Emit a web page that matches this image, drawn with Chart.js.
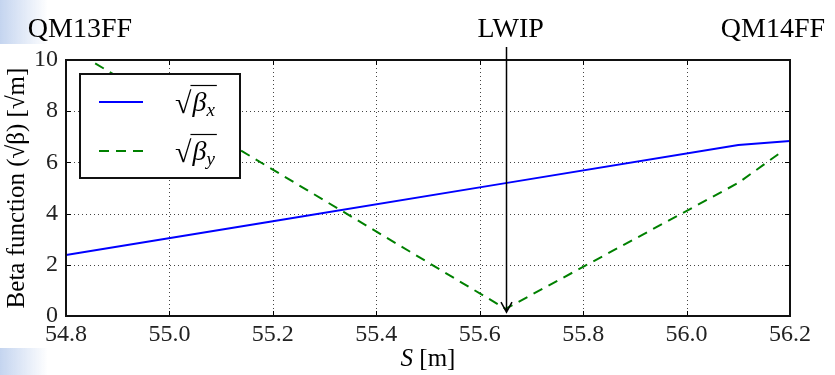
<!DOCTYPE html>
<html>
<head>
<meta charset="utf-8">
<script src="https://cdn.jsdelivr.net/npm/chart.js@4"></script>
<style>
  html, body { margin: 0; padding: 0; background: #fff; }
  #wrap { width: 835px; height: 375px; position: relative; }
</style>
</head>
<body>
<div id="wrap"><canvas id="beta" width="835" height="375"></canvas></div>
<script>
/* ---- data ---- */
// sqrt(beta_x) along S
const sBetaX = [54.8, 55.2, 55.65, 56.1, 56.2];
const sqrtBetaX = [2.38, 3.70, 5.19, 6.68, 6.84];
// sqrt(beta_y) along S
const sBetaY = [54.8, 55.65, 56.1, 56.18];
const sqrtBetaY = [10.55, 0.28, 5.2, 6.36];

// element names above the plot and where they sit in S
const markNames = ["QM13FF", "LWIP", "QM14FF"];
const markS = [54.827, 55.66, 56.167];
const ipS = 55.65; // arrow position

const xTicks = [54.8, 55.0, 55.2, 55.4, 55.6, 55.8, 56.0, 56.2];
const yTicks = [0, 2, 4, 6, 8, 10];

const SERIF = "'Liberation Serif', 'DejaVu Serif', serif";

function toPoints(xs, ys) {
  return xs.map((x, i) => ({ x: x, y: ys[i] }));
}

// light slide background peeking at the left edge
const slideBg = {
  id: "slideBg",
  beforeDraw(chart) {
    const c = chart.ctx;
    c.save();
    let g = c.createLinearGradient(0, 0, 48, 0);
    g.addColorStop(0, "rgba(190,208,238,0.9)");
    g.addColorStop(1, "rgba(190,208,238,0)");
    c.fillStyle = g;
    c.fillRect(0, 0, 48, 44);
    c.fillRect(0, 348, 48, 27);
    c.restore();
  },
};

// dotted grid, drawn under the lines
const dottedGrid = {
  id: "dottedGrid",
  beforeDatasetsDraw(chart) {
    const { ctx: c, chartArea: a, scales } = chart;
    c.save();
    c.strokeStyle = "#444";
    c.lineWidth = 1;
    c.setLineDash([1, 3]);
    xTicks.slice(1, -1).forEach((v) => {
      const px = Math.round(scales.x.getPixelForValue(v)) + 0.5;
      c.beginPath();
      c.moveTo(px, a.top);
      c.lineTo(px, a.bottom);
      c.stroke();
    });
    yTicks.slice(1, -1).forEach((v) => {
      const py = Math.round(scales.y.getPixelForValue(v)) + 0.5;
      c.beginPath();
      c.moveTo(a.left, py);
      c.lineTo(a.right, py);
      c.stroke();
    });
    c.restore();
  },
};

// frame, inward ticks, arrow, labels and legend
const overlay = {
  id: "overlay",
  afterDatasetsDraw(chart) {
    const { ctx: c, chartArea: a, scales } = chart;
    c.save();

    // inward tick marks
    c.strokeStyle = "#000";
    c.lineWidth = 1;
    const tl = 5;
    xTicks.forEach((v) => {
      const px = Math.round(scales.x.getPixelForValue(v)) + 0.5;
      c.beginPath();
      c.moveTo(px, a.bottom); c.lineTo(px, a.bottom - tl);
      c.moveTo(px, a.top); c.lineTo(px, a.top + tl);
      c.stroke();
    });
    yTicks.forEach((v) => {
      const py = Math.round(scales.y.getPixelForValue(v)) + 0.5;
      c.beginPath();
      c.moveTo(a.left, py); c.lineTo(a.left + tl, py);
      c.moveTo(a.right, py); c.lineTo(a.right - tl, py);
      c.stroke();
    });

    // frame
    c.lineWidth = 2;
    c.strokeStyle = "#111";
    c.strokeRect(a.left, a.top, a.right - a.left, a.bottom - a.top);

    // arrow to the IP
    const ax = Math.round(scales.x.getPixelForValue(ipS)) + 0.5;
    const tipY = scales.y.getPixelForValue(0.15);
    c.lineWidth = 1.5;
    c.strokeStyle = "#000";
    c.beginPath();
    c.moveTo(ax, a.top - 13);
    c.lineTo(ax, tipY);
    c.moveTo(ax - 5.5, tipY - 10);
    c.lineTo(ax, tipY);
    c.lineTo(ax + 5.5, tipY - 10);
    c.stroke();

    // element names
    c.fillStyle = "#000";
    c.font = "28px " + SERIF;
    c.textAlign = "center";
    c.textBaseline = "alphabetic";
    markNames.forEach((n, i) => {
      c.fillText(n, scales.x.getPixelForValue(markS[i]), 37);
    });

    // x axis title: italic S, upright unit
    c.textAlign = "left";
    c.font = "italic 25px " + SERIF;
    const sW = c.measureText("S").width;
    c.font = "25px " + SERIF;
    const uW = c.measureText(" [m]").width;
    const cx = (a.left + a.right) / 2 - (sW + uW) / 2;
    c.font = "italic 25px " + SERIF;
    c.fillText("S", cx, 366);
    c.font = "25px " + SERIF;
    c.fillText(" [m]", cx + sW, 366);

    // legend box
    const lx = a.left + 14, ly = a.top + 14, lw = 160, lh = 104;
    c.fillStyle = "#fff";
    c.fillRect(lx, ly, lw, lh);
    c.lineWidth = 2;
    c.strokeStyle = "#111";
    c.strokeRect(lx, ly, lw, lh);

    chart.data.datasets.forEach((ds, i) => {
      const yy = ly + 28 + i * 49;
      c.save();
      c.strokeStyle = ds.borderColor;
      c.lineWidth = ds.borderWidth;
      c.setLineDash(ds.borderDash || []);
      c.beginPath();
      c.moveTo(lx + 19, yy);
      c.lineTo(lx + 63, yy);
      c.stroke();
      c.restore();

      // sqrt(beta_sub)
      const tx = lx + 95;
      c.fillStyle = "#000";
      c.strokeStyle = "#000";
      c.textAlign = "left";
      c.font = "30px " + SERIF;
      c.fillText("\u221A", tx, yy + 11);
      const rw = c.measureText("\u221A").width;
      c.font = "italic 28px " + SERIF;
      c.fillText("\u03B2", tx + rw + 1, yy + 9);
      const bw = c.measureText("\u03B2").width;
      c.font = "italic 19px " + SERIF;
      c.fillText(ds.sub, tx + rw + bw + 1, yy + 14);
      const sw = c.measureText(ds.sub).width;
      c.lineWidth = 1.2;
      c.beginPath();
      c.moveTo(tx + rw - 1, yy - 16.5);
      c.lineTo(tx + rw + bw + sw + 3, yy - 16.5);
      c.stroke();
    });

    c.restore();
  },
};

new Chart(document.getElementById("beta"), {
  type: "line",
  data: {
    datasets: [
      {
        label: "sqrt(beta_x)",
        sub: "x",
        data: toPoints(sBetaX, sqrtBetaX),
        borderColor: "#0000ff",
        borderWidth: 2,
        pointRadius: 0,
        tension: 0,
        fill: false,
      },
      {
        label: "sqrt(beta_y)",
        sub: "y",
        data: toPoints(sBetaY, sqrtBetaY),
        borderColor: "#008000",
        borderWidth: 2,
        borderDash: [10, 7],
        pointRadius: 0,
        tension: 0,
        fill: false,
      },
    ],
  },
  options: {
    responsive: false,
    animation: false,
    events: [],
    layout: { padding: { left: 0, right: 45, top: 60, bottom: 0 } },
    plugins: { legend: { display: false }, tooltip: { enabled: false } },
    scales: {
      x: {
        type: "linear",
        min: 54.8,
        max: 56.2,
        afterBuildTicks: (s) => { s.ticks = xTicks.map((v) => ({ value: v })); },
        afterFit: (s) => { s.height = 59; },
        grid: { display: false, drawTicks: false, tickLength: 0 },
        border: { display: false },
        ticks: {
          padding: 4,
          color: "#222",
          font: { family: SERIF, size: 24 },
          callback: (v) => Number(v).toFixed(1),
        },
        title: { display: false },
      },
      y: {
        min: 0,
        max: 10,
        afterBuildTicks: (s) => { s.ticks = yTicks.map((v) => ({ value: v })); },
        afterFit: (s) => { s.width = 66; },
        grid: { display: false, drawTicks: false, tickLength: 0 },
        border: { display: false },
        ticks: {
          padding: 8,
          color: "#222",
          font: { family: SERIF, size: 24 },
        },
        title: {
          display: true,
          text: "Beta function (\u221A\u03B2) [\u221Am]",
          color: "#000",
          font: { family: SERIF, size: 25 },
          padding: { top: 2, bottom: 0 },
        },
      },
    },
  },
  plugins: [slideBg, dottedGrid, overlay],
});
</script>
</body>
</html>
